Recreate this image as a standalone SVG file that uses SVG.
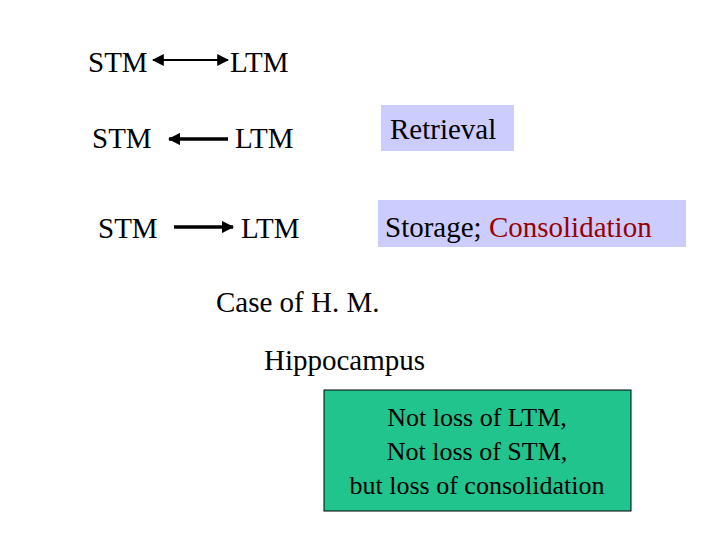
<svg xmlns="http://www.w3.org/2000/svg" width="720" height="540" viewBox="0 0 720 540">
<style>
text{font-family:"Liberation Serif","Times New Roman",serif;font-size:29px;fill:#000}
.b{font-size:26px}
</style>
<defs>
<marker id="h" viewBox="0 0 10 10" refX="9" refY="5" markerWidth="3.5" markerHeight="3.5" orient="auto-start-reverse"><path d="M0,0L10,5L0,10z" fill="#000"/></marker>
<marker id="hs" viewBox="0 0 10 10" refX="9" refY="5" markerWidth="6" markerHeight="6" orient="auto-start-reverse"><path d="M0,0L10,5L0,10z" fill="#000"/></marker>
</defs>
<rect width="720" height="540" fill="#fff"/>
<g id="connectors" stroke="#000">
<line x1="153" y1="60" x2="228" y2="60" stroke-width="2" marker-start="url(#hs)" marker-end="url(#hs)"/>
<line x1="169" y1="139" x2="228" y2="139" stroke-width="3.5" marker-start="url(#h)"/>
<line x1="174" y1="227" x2="233" y2="227" stroke-width="3.5" marker-end="url(#h)"/>
</g>
<g id="row1"><text x="88" y="72">STM</text><text x="230" y="72">LTM</text></g>
<g id="row2"><text x="92" y="148">STM</text><text x="235" y="148">LTM</text></g>
<g id="row3"><text x="98" y="238">STM</text><text x="241" y="238">LTM</text></g>
<g id="retrieval"><rect x="381" y="105" width="133" height="46" fill="#ccccff"/><text x="390" y="139">Retrieval</text></g>
<g id="storage"><rect x="378" y="200" width="308" height="47" fill="#ccccff"/><text x="385" y="237">Storage; <tspan fill="#990000">Consolidation</tspan></text></g>
<g id="case"><text x="216" y="312">Case of H. M.</text></g>
<g id="hippo"><text x="264" y="370">Hippocampus</text></g>
<g id="note"><rect x="324" y="390" width="307" height="121" fill="#22c48e" stroke="#000" stroke-width="1"/>
<text class="b" text-anchor="middle" x="477" y="426">Not loss of  LTM,</text>
<text class="b" text-anchor="middle" x="477" y="460">Not loss of STM,</text>
<text class="b" text-anchor="middle" x="477" y="494">but loss of consolidation</text></g>
</svg>
